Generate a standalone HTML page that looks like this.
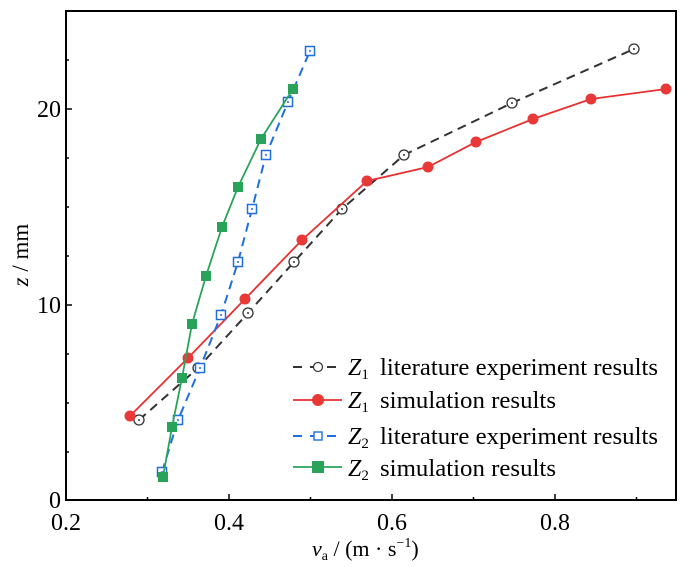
<!DOCTYPE html>
<html><head><meta charset="utf-8"><style>body{margin:0;background:#fff}svg{display:block}</style></head>
<body>
<svg width="700" height="567" viewBox="0 0 700 567" xmlns="http://www.w3.org/2000/svg" font-family="Liberation Serif, serif">
<rect width="700" height="567" fill="#fff"/>
<rect x="66" y="11" width="610" height="489" fill="none" stroke="#000" stroke-width="2"/>
<g stroke="#000" stroke-width="1.5">
<line x1="66" y1="500" x2="66" y2="494"/><line x1="229" y1="500" x2="229" y2="494"/><line x1="392" y1="500" x2="392" y2="494"/><line x1="555" y1="500" x2="555" y2="494"/>
<line x1="147.5" y1="500" x2="147.5" y2="497"/><line x1="310.5" y1="500" x2="310.5" y2="497"/><line x1="473.5" y1="500" x2="473.5" y2="497"/><line x1="636.5" y1="500" x2="636.5" y2="497"/>
<line x1="66" y1="305" x2="72" y2="305"/><line x1="66" y1="109" x2="72" y2="109"/>
<line x1="66" y1="452" x2="69" y2="452"/><line x1="66" y1="403" x2="69" y2="403"/><line x1="66" y1="354" x2="69" y2="354"/><line x1="66" y1="256" x2="69" y2="256"/><line x1="66" y1="207" x2="69" y2="207"/><line x1="66" y1="158" x2="69" y2="158"/><line x1="66" y1="60" x2="69" y2="60"/>
</g>
<g font-size="24" fill="#000" text-anchor="middle">
<text x="66" y="530">0.2</text><text x="229" y="530">0.4</text><text x="392" y="530">0.6</text><text x="555" y="530">0.8</text>
</g>
<g font-size="24" fill="#000" text-anchor="end">
<text x="61" y="508">0</text><text x="61" y="313">10</text><text x="61" y="117">20</text>
</g>
<text x="312" y="556" font-size="22"><tspan font-style="italic">v</tspan><tspan font-size="14" dy="4">a</tspan><tspan dy="-4"> / (m · s</tspan><tspan font-size="14" dy="-9">−1</tspan><tspan dy="9">)</tspan></text>
<text transform="translate(28,255) rotate(-90)" text-anchor="middle" font-size="23"><tspan font-style="italic">z</tspan> / mm</text>

<polyline fill="none" stroke="#333" stroke-width="2" stroke-dasharray="9,6" points="139,420 198,368 248,313 294,262 342,209 404,155 512,103 634,49"/>
<g fill="#fff" stroke="#333" stroke-width="1.3">
<circle cx="139" cy="420" r="5"/><circle cx="198" cy="368" r="5"/><circle cx="248" cy="313" r="5"/><circle cx="294" cy="262" r="5"/><circle cx="342" cy="209" r="5"/><circle cx="404" cy="155" r="5"/><circle cx="512" cy="103" r="5"/><circle cx="634" cy="49" r="5"/>
</g>
<g fill="#333"><circle cx="139" cy="420" r="1"/><circle cx="198" cy="368" r="1"/><circle cx="248" cy="313" r="1"/><circle cx="294" cy="262" r="1"/><circle cx="342" cy="209" r="1"/><circle cx="404" cy="155" r="1"/><circle cx="512" cy="103" r="1"/><circle cx="634" cy="49" r="1"/></g>
<polyline fill="none" stroke="#e83030" stroke-width="1.8" points="130,416 188,358 245,299 302,240 367,181 428,167 476,142 533,119 591,99 666,89"/>
<g fill="#e83838">
<circle cx="130" cy="416" r="5.5"/><circle cx="188" cy="358" r="5.5"/><circle cx="245" cy="299" r="5.5"/><circle cx="302" cy="240" r="5.5"/><circle cx="367" cy="181" r="5.5"/><circle cx="428" cy="167" r="5.5"/><circle cx="476" cy="142" r="5.5"/><circle cx="533" cy="119" r="5.5"/><circle cx="591" cy="99" r="5.5"/><circle cx="666" cy="89" r="5.5"/>
</g>
<polyline fill="none" stroke="#1f6fe0" stroke-width="2" stroke-dasharray="9,6" points="162,472 178,420 200,368 221,315 238,262 252,209 266,155 288,102 310,51"/>
<g fill="#fff" stroke="#1f6fe0" stroke-width="1.5">
<rect x="157.5" y="467.5" width="9" height="9"/><rect x="173.5" y="415.5" width="9" height="9"/><rect x="195.5" y="363.5" width="9" height="9"/><rect x="216.5" y="310.5" width="9" height="9"/><rect x="233.5" y="257.5" width="9" height="9"/><rect x="247.5" y="204.5" width="9" height="9"/><rect x="261.5" y="150.5" width="9" height="9"/><rect x="283.5" y="97.5" width="9" height="9"/><rect x="305.5" y="46.5" width="9" height="9"/>
</g>
<g fill="#1f6fe0"><circle cx="162" cy="472" r="1"/><circle cx="178" cy="420" r="1"/><circle cx="200" cy="368" r="1"/><circle cx="221" cy="315" r="1"/><circle cx="238" cy="262" r="1"/><circle cx="252" cy="209" r="1"/><circle cx="266" cy="155" r="1"/><circle cx="288" cy="102" r="1"/><circle cx="310" cy="51" r="1"/></g>
<polyline fill="none" stroke="#2aa35a" stroke-width="1.8" points="163,477 172,427 182,378 192,324 206,276 222,227 238,187 261,139 293,89"/>
<g fill="#2aa35a">
<rect x="158" y="472" width="10" height="10"/><rect x="167" y="422" width="10" height="10"/><rect x="177" y="373" width="10" height="10"/><rect x="187" y="319" width="10" height="10"/><rect x="201" y="271" width="10" height="10"/><rect x="217" y="222" width="10" height="10"/><rect x="233" y="182" width="10" height="10"/><rect x="256" y="134" width="10" height="10"/><rect x="288" y="84" width="10" height="10"/>
</g>

<line x1="293" y1="367" x2="342" y2="367" stroke="#333" stroke-width="2" stroke-dasharray="9,8"/>
<circle cx="318" cy="367" r="4.5" fill="#fff" stroke="#333" stroke-width="1.2"/>
<line x1="293" y1="400" x2="342" y2="400" stroke="#e83030" stroke-width="1.8"/>
<circle cx="318" cy="400" r="6" fill="#e83838"/>
<line x1="293" y1="436" x2="342" y2="436" stroke="#1f6fe0" stroke-width="2" stroke-dasharray="9,8"/>
<rect x="314" y="432" width="8" height="8" fill="#fff" stroke="#1f6fe0" stroke-width="1.4"/>
<line x1="293" y1="467" x2="342" y2="467" stroke="#2aa35a" stroke-width="1.8"/>
<rect x="312" y="461" width="12" height="12" fill="#2aa35a"/>
<g font-size="24" fill="#000">
<text x="348" y="375"><tspan font-style="italic">Z</tspan><tspan font-size="15" dy="4">1</tspan><tspan dy="-4" x="380" textLength="278" lengthAdjust="spacingAndGlyphs">literature experiment results</tspan></text>
<text x="348" y="408"><tspan font-style="italic">Z</tspan><tspan font-size="15" dy="4">1</tspan><tspan dy="-4" x="380" textLength="176" lengthAdjust="spacingAndGlyphs">simulation results</tspan></text>
<text x="348" y="444"><tspan font-style="italic">Z</tspan><tspan font-size="15" dy="4">2</tspan><tspan dy="-4" x="380" textLength="278" lengthAdjust="spacingAndGlyphs">literature experiment results</tspan></text>
<text x="348" y="476"><tspan font-style="italic">Z</tspan><tspan font-size="15" dy="4">2</tspan><tspan dy="-4" x="380" textLength="176" lengthAdjust="spacingAndGlyphs">simulation results</tspan></text>
</g>
</svg>
</body></html>
